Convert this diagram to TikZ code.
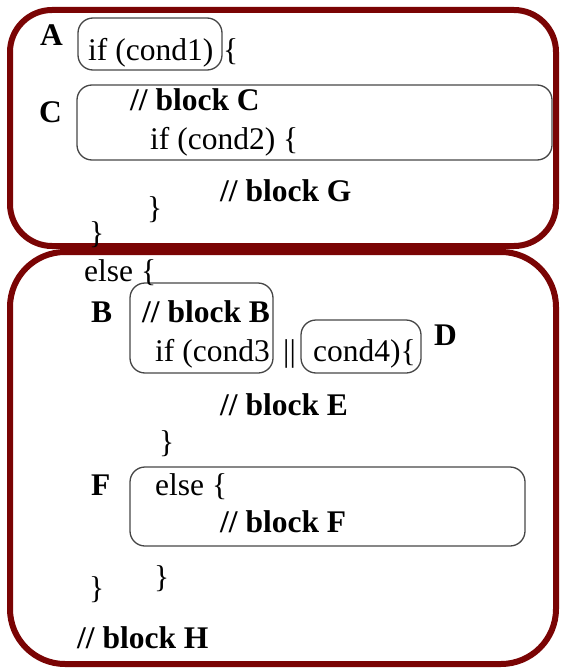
\documentclass[tikz,border=0pt]{standalone}
\usepackage{fontspec}
\setmainfont{Liberation Serif}
\definecolor{frame}{RGB}{122,4,4}
\definecolor{boxline}{RGB}{70,70,70}
\begin{document}
\begin{tikzpicture}[x=1pt,y=-1pt,
  txt/.style={anchor=base west,inner sep=0pt,font=\fontsize{31.5}{31.5}\selectfont},
  btxt/.style={txt,font=\fontsize{31.5}{31.5}\selectfont\bfseries},
  frm/.style={draw=frame,line width=6pt},
  rbox/.style={draw=boxline,line width=1.3pt,rounded corners=15pt}]
\useasboundingbox (0,0) rectangle (561,669);
% frames
\draw[frm,rounded corners=42pt] (10,10) rectangle (556,246);
\draw[frm,rounded corners=55pt] (10,252) rectangle (556,664);
% boxes
\draw[rbox] (78,18) rectangle (222,70);
\draw[rbox] (77,85) rectangle (552,160);
\draw[rbox] (130,283) rectangle (273,373);
\draw[rbox] (301,320) rectangle (421,373);
\draw[rbox] (130,467) rectangle (525,546);
% texts
\node[btxt] (lA) at (40,46) {A};
\node[txt] (t1) at (88,61) {if (cond1)};
\node[txt] (b1) at (223,61) {\{};
\node[btxt] (lC) at (39,122) {C};
\node[btxt] (bC) at (130,110) {// block C};
\node[txt] (t2) at (150,149) {if (cond2) \{};
\node[btxt] (bG) at (220,201) {// block G};
\node[txt] (c1) at (147,218) {\}};
\node[txt] (c2) at (89,243) {\}};
\node[txt] (e1) at (84,281) {else \{};
\node[btxt] (lB) at (91,322) {B};
\node[btxt] (bB) at (142,322) {// block B};
\node[txt] (t3) at (155,361) {if (cond3};
\node[txt] (or) at (283,361) {||};
\node[txt] (t4) at (313,361) {cond4)\{};
\node[btxt] (lD) at (434,345) {D};
\node[btxt] (bE) at (220,415) {// block E};
\node[txt] (c3) at (159,452) {\}};
\node[btxt] (lF) at (91,495) {F};
\node[txt] (e2) at (155,495) {else \{};
\node[btxt] (bF) at (220,532) {// block F};
\node[txt] (c4) at (154,587) {\}};
\node[txt] (c5) at (89,598) {\}};
\node[btxt] (bH) at (77,648) {// block H};
\end{tikzpicture}
\end{document}
